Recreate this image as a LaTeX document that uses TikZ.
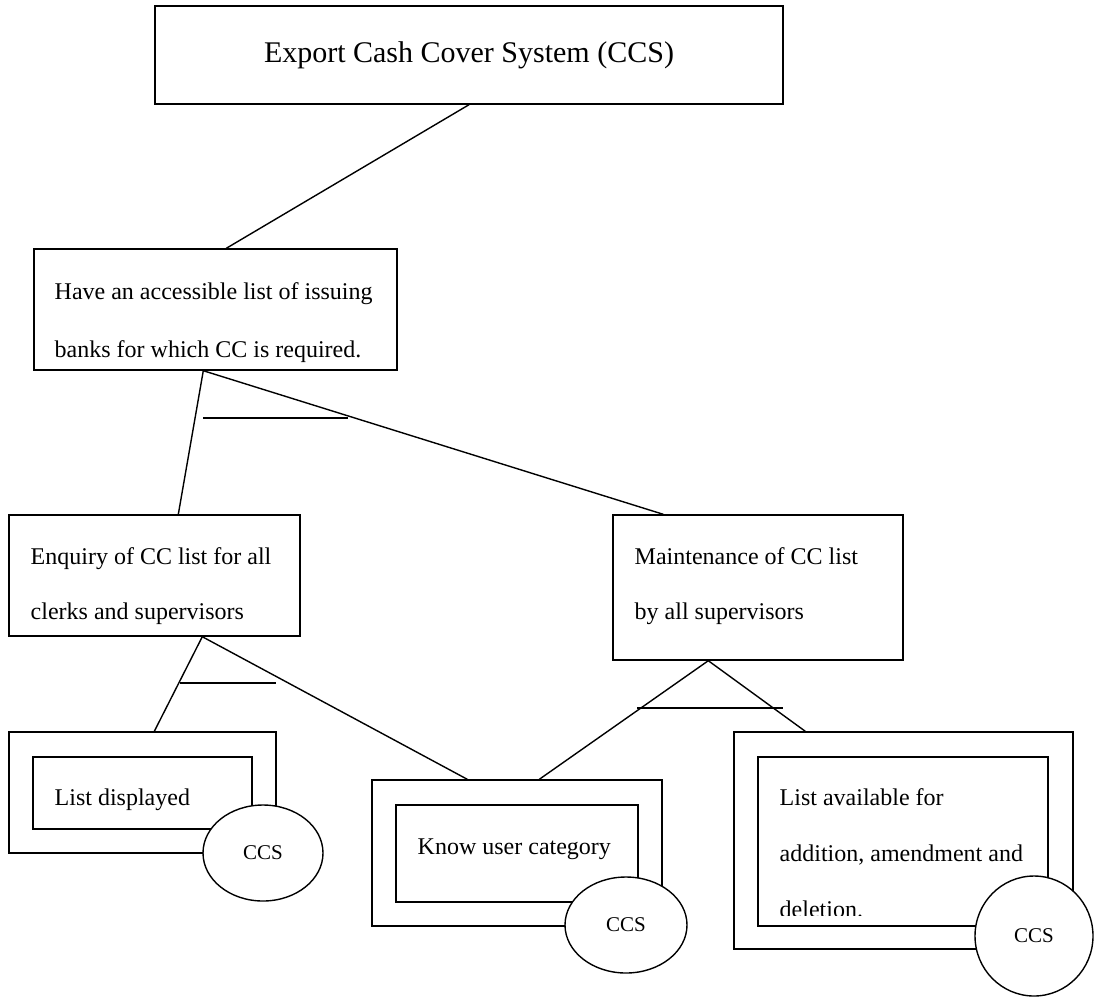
\documentclass[tikz,border=0pt]{standalone}
\usepackage{fontspec}
\setmainfont{Liberation Serif}
\usetikzlibrary{shapes}

\begin{document}
\begin{tikzpicture}[x=1pt, y=-1pt, line width=1.4pt,
		box/.style={rectangle, draw, inner sep=0pt},
		txt/.style={anchor=west, align=left, inner sep=0pt, font=\fontsize{24}{55}\selectfont},
		tag/.style={ellipse, draw, fill=white, inner sep=0pt, font=\fontsize{21}{24}\selectfont}]
			\useasboundingbox (0, 0) rectangle (1097, 997);

			\node (ccs)[box, minimum width=628, minimum height=98, font=\fontsize{30}{36}\selectfont] at (469, 55) {Export Cash Cover System (CCS)};

			\node (acc)[box, minimum width=363, minimum height=121] at (215.5, 309.5) {};
			\node (acct)[txt, font=\fontsize{24}{58}\selectfont] at (54, 322.5) {Have an accessible list of issuing\\banks for which CC is required.};

			\node (enq)[box, minimum width=291, minimum height=121] at (154.5, 575.5) {};
			\node (enqt)[txt] at (30, 586) {Enquiry of CC list for all\\clerks and supervisors};
			\node (mnt)[box, minimum width=290, minimum height=145] at (758, 587.5) {};
			\node (mntt)[txt] at (634, 586) {Maintenance of CC list\\by all supervisors};

			\node (lst)[box, minimum width=267, minimum height=121] at (142.5, 792.5) {};
			\node (lsti)[box, minimum width=219, minimum height=72] at (142.5, 793) {};
			\node (lstt)[txt] at (54, 800) {List displayed};

			\node (usr)[box, minimum width=290, minimum height=146] at (517, 853) {};
			\node (usri)[box, minimum width=242, minimum height=97] at (517, 853.5) {};
			\node (usrt)[txt] at (417, 849) {Know user category};

			\node (avl)[box, minimum width=339, minimum height=217] at (903.5, 840.5) {};
			\node (avli)[box, minimum width=290, minimum height=169] at (903, 841.5) {};
			\begin{scope}
				\clip (758, 757) rectangle (1048, 915);
				\node (avlt)[txt, font=\fontsize{24}{56}\selectfont] at (779, 853) {List available for\\addition, amendment and\\deletion.};
			\end{scope}

			\node (lstc)[tag, minimum width=120, minimum height=96] at (263, 853) {CCS};
			\node (usrc)[tag, minimum width=122, minimum height=96] at (626, 925) {CCS};
			\node (avlc)[tag, minimum width=118, minimum height=120] at (1034, 936) {CCS};

			\draw (ccs.south) -- ([xshift=193]acc.north west);
			\draw ([xshift=170]acc.south west) -- ([xshift=170]enq.north west);
			\draw ([xshift=170]acc.south west) -- ([xshift=51]mnt.north west);
			\draw ([xshift=194]enq.south west) -- ([xshift=146]lst.north west);
			\draw ([xshift=194]enq.south west) -- ([xshift=96]usr.north west);
			\draw ([xshift=96]mnt.south west) -- ([xshift=168]usr.north west);
			\draw ([xshift=96]mnt.south west) -- ([xshift=72]avl.north west);

			\draw (203, 418) -- (348, 418);
			\draw (180, 683) -- (276, 683);
			\draw (637, 708) -- (783, 708);
		\end{tikzpicture}
\end{document}
